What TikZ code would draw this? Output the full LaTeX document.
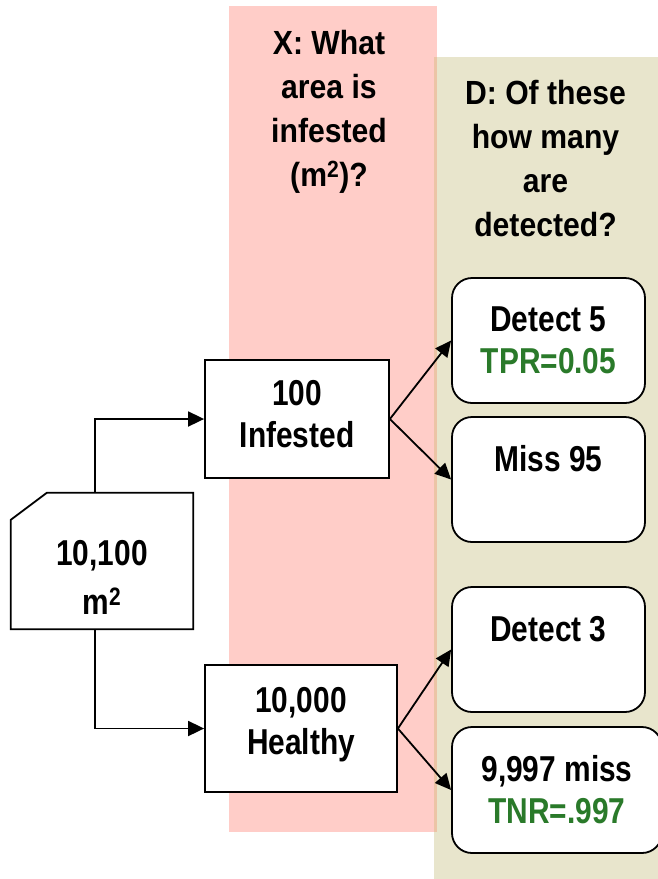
\documentclass[tikz,border=0pt]{standalone}
\usepackage{fontspec}
\setmainfont{Liberation Sans}
\newfontfamily\boxfont[FakeStretch=0.83]{Liberation Sans}
\newfontfamily\headfont[FakeStretch=0.9]{Liberation Sans}
\usetikzlibrary{arrows.meta}
\definecolor{pinkcol}{RGB}{255,205,200}
\definecolor{beigecol}{RGB}{232,229,204}
\definecolor{overlapcol}{RGB}{236,196,166}
\definecolor{greentxt}{RGB}{42,122,42}
\begin{document}
\begin{tikzpicture}[x=1pt,y=-1pt,
  coltext/.style={font=\headfont\bfseries\fontsize{33.5}{44}\selectfont, align=center, inner sep=0pt, anchor=north},
  boxtext/.style={font=\boxfont\bfseries\fontsize{36}{42}\selectfont, align=center, inner sep=0pt},
  sqbox/.style={boxtext, draw, line width=1.8pt, fill=white},
  rbox/.style={sqbox, rounded corners=20pt, minimum width=193pt, minimum height=125pt},
  conn/.style={line width=1.8pt, -{Triangle[length=16pt,width=15pt]}}]
\useasboundingbox (0,0) rectangle (658,879);
\clip (0,0) rectangle (658,879);
% columns
\fill[pinkcol] (229,6) rectangle (437,832);
\fill[beigecol] (434,57) rectangle (658,879);
\fill[overlapcol] (434,57) rectangle (437,832);
% column headings
\node[coltext] (xq) at (329,30) {X: What\\area is\\infested\\(m\textsuperscript{2})?};
\node[coltext] (dq) at (545.5,80) {D: Of these\\how many\\are\\detected?};
% start box (snipped corner)
\node[boxtext, minimum width=182pt, minimum height=136pt] (area) at (102,561) {\rule{0pt}{58pt}10,100\\[7pt]m\textsuperscript{2}};
\draw[line width=1.8pt] ([xshift=36pt]area.north west) -- (area.north east) -- (area.south east) -- (area.south west) -- ([yshift=-27pt]area.north west) -- cycle;
% middle boxes
\node[sqbox, minimum width=184pt, minimum height=118pt] (inf) at (297,419) {100\\Infested\rule[-11pt]{0pt}{0pt}};
\node[sqbox, minimum width=192pt, minimum height=127pt] (hea) at (301,728.5) {10,000\\Healthy\rule[-15pt]{0pt}{0pt}};
% outcome boxes
\node[rbox] (d5) at (548.5,340.5) {Detect 5\\\textcolor{greentxt}{TPR=0.05}};
\node[rbox] (m95) at (548.5,479.5) {Miss 95\\\mbox{}};
\node[rbox] (d3) at (548.5,649.5) {Detect 3\\\mbox{}};
\node[rbox, minimum width=210pt, minimum height=126pt] (m9997) at (557,790) {9,997 miss\\\textcolor{greentxt}{TNR=.997}};
% connectors
\draw[conn] ([xshift=-7pt]area.north) |- (inf.west);
\draw[conn] ([xshift=-7pt]area.south) |- (hea.west);
\draw[conn] (inf.east) -- (d5.west);
\draw[conn] (inf.east) -- (m95.west);
\draw[conn] (hea.east) -- (d3.west);
\draw[conn] (hea.east) -- (m9997.west);
\end{tikzpicture}
\end{document}
